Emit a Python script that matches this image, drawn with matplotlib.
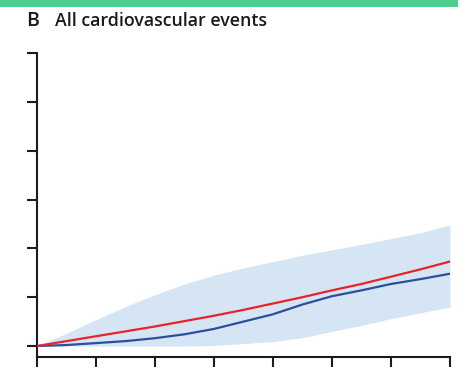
import matplotlib
matplotlib.use("Agg")
import matplotlib.pyplot as plt
from matplotlib.patches import Rectangle

# Follow-up time grid and cumulative event curves
years = [0, 0.5, 1, 1.5, 2, 2.5, 3, 3.5, 4, 4.5, 5, 5.5, 6, 6.5, 7]
predicted = [0, 0.10, 0.20, 0.30, 0.40, 0.51, 0.62, 0.74, 0.87, 1.00, 1.14, 1.27, 1.42, 1.57, 1.73]
observed = [0, 0.02, 0.06, 0.10, 0.16, 0.24, 0.35, 0.50, 0.65, 0.85, 1.02, 1.14, 1.27, 1.37, 1.48]
band_upper = [0, 0.26, 0.54, 0.81, 1.05, 1.27, 1.45, 1.60, 1.73, 1.86, 1.97, 2.08, 2.20, 2.32, 2.48]
band_lower = [0, 0, 0, 0, 0, 0, 0.01, 0.05, 0.09, 0.17, 0.30, 0.42, 0.56, 0.68, 0.80]

x_ticks = [0, 1, 2, 3, 4, 5, 6, 7]
y_ticks = [0, 1, 2, 3, 4, 5, 6]

W, H = 462, 376
fig = plt.figure(figsize=(W / 100, H / 100), dpi=100)

# top banner strip
fig.patches.append(Rectangle((0, 1 - 7 / H), 458 / W, 7 / H, transform=fig.transFigure,
                             facecolor="#4ccd8b", edgecolor="none", zorder=0))

ax = fig.add_axes([37 / W, (H - 357) / H, (450 - 37) / W, (357 - 53) / H])

ax.fill_between(years, band_lower, band_upper, color="#d6e5f4", linewidth=0, zorder=1)
ax.plot(years, observed, color="#2b4f9e", linewidth=1.6, zorder=3, solid_capstyle="round")
ax.plot(years, predicted, color="#e8232b", linewidth=1.6, zorder=4, solid_capstyle="round")

ax.set_xlim(0, 7)
ax.set_ylim(-0.225, 6)
ax.set_xticks(x_ticks)
ax.set_yticks(y_ticks)
ax.set_xticklabels([])
ax.set_yticklabels([])
ax.tick_params(axis="both", direction="out", length=7.5, width=1.5, color="#1c1c1c")
for side in ("top", "right"):
    ax.spines[side].set_visible(False)
for side in ("left", "bottom"):
    ax.spines[side].set_linewidth(1.5)
    ax.spines[side].set_color("#1c1c1c")
ax.patch.set_alpha(0)

fig.text(26 / W, 1 - 26 / H, "B", fontsize=14, family="Open Sans", weight="semibold",
         color="#1a1a1a", va="baseline")
fig.text(55 / W, 1 - 26 / H, "All cardiovascular events", fontsize=12.8, family="Open Sans",
         weight="semibold", color="#1a1a1a", va="baseline")

fig.savefig("out.png", dpi=100)
